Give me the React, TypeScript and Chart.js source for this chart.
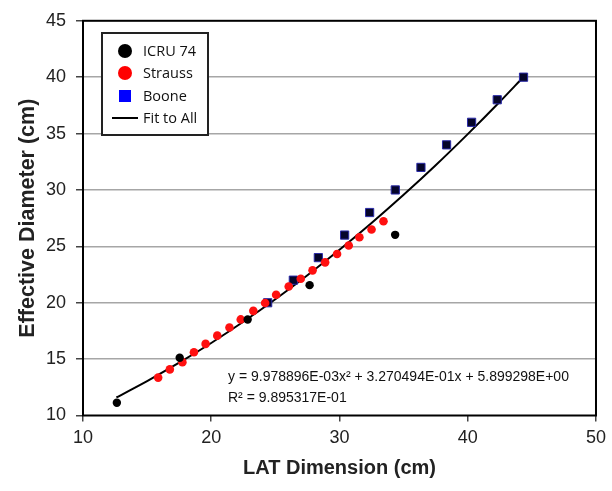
import React, { useEffect, useRef } from 'react';
import { Chart, registerables } from 'chart.js';

Chart.register(...registerables);

// ICRU 74 (black circles)
const icruX = [12.64, 17.54, 22.84, 27.67, 34.34];
const icruY = [11.13, 15.12, 18.51, 21.56, 26.02];

// Strauss (red circles)
const straussX = [15.86, 16.77, 17.75, 18.65, 19.56, 20.47, 21.42, 22.3, 23.28, 24.2, 25.06, 26.04, 26.98, 27.9, 28.88, 29.81, 30.72, 31.55, 32.5, 33.43];
const straussY = [13.36, 14.09, 14.73, 15.61, 16.35, 17.08, 17.81, 18.52, 19.28, 19.98, 20.71, 21.44, 22.13, 22.87, 23.58, 24.32, 25.08, 25.8, 26.49, 27.22];

// Boone (blue squares)
const booneX = [24.4, 26.4, 28.35, 30.4, 32.35, 34.35, 36.35, 38.35, 40.3, 42.3, 44.35];
const booneY = [20, 22, 24, 26, 28, 30, 32, 34, 36, 38, 40];

// Fit to All (curve)
const fitX = [12.6, 15, 17.5, 20, 22.5, 25, 27.5, 30, 32.5, 35, 37.5, 40, 42.5, 44.3];
const fitY = [11.6, 13.05, 14.68, 16.43, 18.31, 20.31, 22.44, 24.69, 27.07, 29.57, 32.19, 34.95, 37.82, 39.97];

const xTicks = [10, 20, 30, 40, 50];
const yTicks = [10, 15, 20, 25, 30, 35, 40, 45];

const seriesNames = ['ICRU 74', 'Strauss', 'Boone', 'Fit to All'];
const xTitle = 'LAT Dimension (cm)';
const yTitle = 'Effective Diameter (cm)';
const equationText = 'y = 9.978896E-03x\u00B2 + 3.270494E-01x + 5.899298E+00';
const r2Text = 'R\u00B2 = 9.895317E-01';

const zip = (xs: number[], ys: number[]) => xs.map((x, i) => ({ x, y: ys[i] }));

export default function App() {
  const ref = useRef<HTMLCanvasElement>(null);

  useEffect(() => {
    const canvas = ref.current;
    if (!canvas) return;

    const overlay = {
      id: 'overlay',
      beforeDatasetsDraw(chart: any) {
        const { ctx, chartArea } = chart;
        ctx.save();
        ctx.strokeStyle = '#000';
        ctx.lineWidth = 2;
        ctx.strokeRect(chartArea.left, chartArea.top, chartArea.right - chartArea.left, chartArea.bottom - chartArea.top);
        ctx.restore();
      },
      afterDraw(chart: any) {
        const { ctx } = chart;
        ctx.save();
        // legend box
        const bx = 102, by = 33, bw = 106, bh = 102;
        ctx.fillStyle = '#fff';
        ctx.fillRect(bx, by, bw, bh);
        ctx.strokeStyle = '#222';
        ctx.lineWidth = 2;
        ctx.strokeRect(bx, by, bw, bh);
        const mx = 125;
        const rows = [51, 73, 96, 118];
        ctx.fillStyle = '#000';
        ctx.beginPath();
        ctx.arc(mx, rows[0], 7, 0, Math.PI * 2);
        ctx.fill();
        ctx.fillStyle = '#ff0000';
        ctx.beginPath();
        ctx.arc(mx, rows[1], 7, 0, Math.PI * 2);
        ctx.fill();
        ctx.fillStyle = '#0000ff';
        ctx.fillRect(mx - 6, rows[2] - 6, 12, 12);
        ctx.strokeStyle = '#000';
        ctx.lineWidth = 2;
        ctx.beginPath();
        ctx.moveTo(112, rows[3]);
        ctx.lineTo(138, rows[3]);
        ctx.stroke();
        ctx.fillStyle = '#111';
        ctx.font = '14.5px "Open Sans", sans-serif';
        ctx.textBaseline = 'middle';
        ctx.textAlign = 'left';
        seriesNames.forEach((n, i) => ctx.fillText(n, 143, rows[i] + 1));
        // equation
        ctx.font = '14px "Liberation Sans", Arial, sans-serif';
        ctx.fillStyle = '#111';
        ctx.fillText(equationText, 228, 377);
        ctx.fillText(r2Text, 228, 398);
        ctx.restore();
      },
    };

    const chart = new Chart(canvas, {
      type: 'scatter',
      data: {
        datasets: [
          {
            label: seriesNames[0],
            data: zip(icruX, icruY),
            pointRadius: 4.2,
            pointBackgroundColor: '#000',
            pointBorderWidth: 0,
            pointStyle: 'circle',
          },
          {
            label: seriesNames[1],
            data: zip(straussX, straussY),
            pointRadius: 4.3,
            pointBackgroundColor: '#ff1010',
            pointBorderWidth: 0,
            pointStyle: 'circle',
          },
          {
            label: seriesNames[2],
            data: zip(booneX, booneY),
            pointRadius: 5.8,
            pointBackgroundColor: '#05052a',
            pointBorderColor: '#2a2aa8',
            pointBorderWidth: 1,
            pointStyle: 'rect',
          },
          {
            label: seriesNames[3],
            data: zip(fitX, fitY),
            showLine: true,
            pointRadius: 0,
            borderColor: '#000',
            borderWidth: 2,
            cubicInterpolationMode: 'monotone',
          } as any,
        ],
      },
      options: {
        responsive: false,
        animation: false,
        devicePixelRatio: 1,
        layout: { padding: { left: 0, right: 13, top: 17, bottom: 0 } },
        plugins: { legend: { display: false }, tooltip: { enabled: false } },
        scales: {
          x: {
            type: 'linear',
            min: 10,
            max: 50,
            afterFit: (s: any) => { s.height = 75.5; },
            afterBuildTicks: (s: any) => { s.ticks = xTicks.map((v) => ({ value: v })); },
            border: { display: false },
            grid: { drawOnChartArea: false, drawTicks: true, tickLength: 6, tickColor: '#444', lineWidth: 1.5 },
            ticks: { font: { size: 18, family: '"Liberation Sans", Arial, sans-serif' }, color: '#222', padding: 6, maxRotation: 0 },
            title: { display: true, text: xTitle, font: { size: 20, weight: 'bold', family: '"Liberation Sans", Arial, sans-serif' }, color: '#222', padding: { top: 0, bottom: 11 } },
          },
          y: {
            type: 'linear',
            min: 10,
            max: 45,
            afterFit: (s: any) => { s.width = 83; },
            afterBuildTicks: (s: any) => { s.ticks = yTicks.map((v) => ({ value: v })); },
            border: { display: false },
            grid: {
              color: (c: any) => (c.tick && (c.tick.value === 10 || c.tick.value === 45) ? 'rgba(0,0,0,0)' : '#a6a6a6'),
              lineWidth: 1.5,
              tickLength: 7,
              tickColor: '#444',
            },
            ticks: { font: { size: 18, family: '"Liberation Sans", Arial, sans-serif' }, color: '#222', padding: 10 },
            title: { display: true, text: yTitle, font: { size: 21.5, weight: 'bold', family: '"Liberation Sans", Arial, sans-serif' }, color: '#222', padding: { top: 15, bottom: 0 } },
          },
        },
      } as any,
      plugins: [overlay],
    });

    return () => chart.destroy();
  }, []);

  return (
    <div style={{ position: 'absolute', left: 0, top: 0, width: 612, height: 491, background: '#fff' }}>
      <canvas ref={ref} width={612} height={491} style={{ display: 'block', width: 612, height: 491 }} />
    </div>
  );
}
